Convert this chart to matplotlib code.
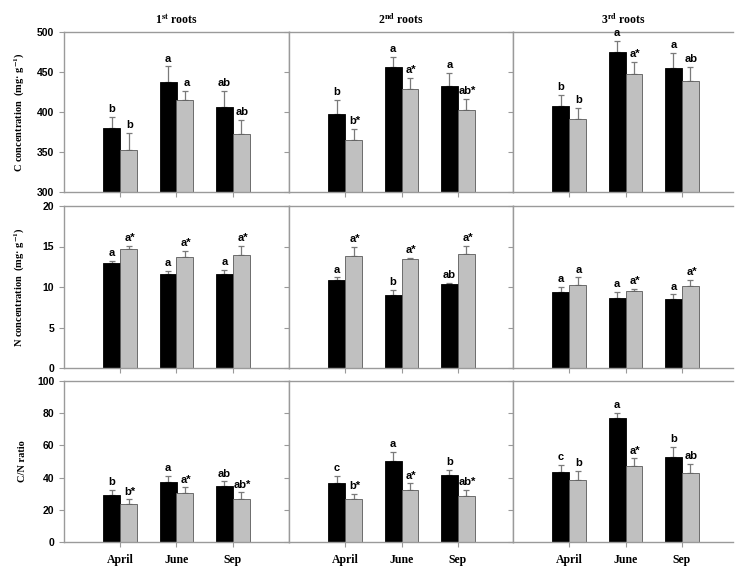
import numpy as np
import matplotlib
matplotlib.use("Agg")
import matplotlib.pyplot as plt

plt.rcParams["mathtext.fontset"] = "stix"

months = ["April", "June", "Sep"]
root_titles = [r"1$^{\mathbf{st}}$ roots", r"2$^{\mathbf{nd}}$ roots", r"3$^{\mathbf{rd}}$ roots"]

# C concentration, one row per root order (1st, 2nd, 3rd)
c_black = [[380, 437, 406], [398, 456, 433], [408, 475, 455]]
c_black_err = [[14, 20, 20], [17, 13, 16], [13, 14, 19]]
c_gray = [[352, 415, 372], [365, 429, 402], [391, 447, 439]]
c_gray_err = [[22, 11, 18], [14, 14, 14], [14, 16, 17]]
c_black_lab = [["b", "a", "ab"], ["b", "a", "a"], ["b", "a", "a"]]
c_gray_lab = [["b", "a", "ab"], ["b*", "a*", "ab*"], ["b", "a*", "ab"]]

# N concentration
n_black = [[12.95, 11.6, 11.6], [10.9, 9.0, 10.35], [9.35, 8.7, 8.55]]
n_black_err = [[0.3, 0.4, 0.5], [0.3, 0.6, 0.2], [0.65, 0.65, 0.55]]
n_gray = [[14.65, 13.7, 13.95], [13.8, 13.4, 14.1], [10.2, 9.55, 10.1]]
n_gray_err = [[0.45, 0.8, 1.15], [1.2, 0.2, 1.0], [1.0, 0.25, 0.8]]
n_black_lab = [["a", "a", "a"], ["a", "b", "ab"], ["a", "a", "a"]]
n_gray_lab = [["a*", "a*", "a*"], ["a*", "a*", "a*"], ["a", "a*", "a*"]]

# C/N ratio
cn_black = [[29.3, 37.4, 34.9], [36.4, 50.4, 41.5], [43.4, 77.1, 52.9]]
cn_black_err = [[2.9, 3.7, 2.7], [4.9, 5.6, 3.1], [4.7, 3.3, 6.0]]
cn_gray = [[23.8, 30.2, 26.4], [26.4, 32.0, 28.5], [38.2, 46.9, 43.0]]
cn_gray_err = [[2.6, 3.7, 4.4], [3.4, 4.4, 3.7], [5.8, 5.0, 5.3]]
cn_black_lab = [["b", "a", "ab"], ["c", "a", "b"], ["c", "a", "b"]]
cn_gray_lab = [["b*", "a*", "ab*"], ["b*", "a*", "ab*"], ["b", "a*", "ab"]]

rows = [
    (c_black, c_black_err, c_gray, c_gray_err, c_black_lab, c_gray_lab,
     (300, 500), [300, 350, 400, 450, 500],
     r"C concentration  (mg· g$^{\mathbf{-1}}$)"),
    (n_black, n_black_err, n_gray, n_gray_err, n_black_lab, n_gray_lab,
     (0, 20), [0, 5, 10, 15, 20],
     r"N concentration  (mg· g$^{\mathbf{-1}}$)"),
    (cn_black, cn_black_err, cn_gray, cn_gray_err, cn_black_lab, cn_gray_lab,
     (0, 100), [0, 20, 40, 60, 80, 100],
     "C/N ratio"),
]

serif = "Liberation Serif"
sans = "Liberation Sans"
spine_col = "#9a9a9a"

fig = plt.figure(figsize=(7.41, 5.72), dpi=100)
W, H = 741.0, 572.0
row_px = [(32, 192), (206, 368), (381, 542)]
col_px = [(64, 289), (289, 513), (513, 733)]

x = np.arange(1, 4)
bw = 0.3

for r, (bm, be, gm, ge, bl, gl, ylim, yticks, ylabel) in enumerate(rows):
    for c in range(3):
        x0, x1 = col_px[c]
        y0, y1 = row_px[r]
        ax = fig.add_axes([x0 / W, 1 - y1 / H, (x1 - x0) / W, (y1 - y0) / H])
        ax.set_xlim(0, (x1 - x0) / 56.25)
        ax.set_ylim(*ylim)

        ax.bar(x - bw / 2, bm[c], bw, color="black", edgecolor="black", linewidth=0.6, zorder=2)
        ax.bar(x + bw / 2, gm[c], bw, color="#c0c0c0", edgecolor="#5a5a5a", linewidth=0.6, zorder=2)
        ax.errorbar(x - bw / 2, bm[c], yerr=[np.zeros(3), be[c]], fmt="none",
                    ecolor="#7a7a7a", elinewidth=0.9, capsize=2.2, capthick=0.9, zorder=1)
        ax.errorbar(x + bw / 2, gm[c], yerr=[np.zeros(3), ge[c]], fmt="none",
                    ecolor="#7a7a7a", elinewidth=0.9, capsize=2.2, capthick=0.9, zorder=1)

        for i in range(3):
            ax.annotate(bl[c][i], (x[i] - bw / 2, bm[c][i] + be[c][i]), xytext=(0, 2),
                        textcoords="offset points", ha="center", va="bottom",
                        fontsize=8, fontweight="bold", family=sans)
            ax.annotate(gl[c][i], (x[i] + bw / 2, gm[c][i] + ge[c][i]), xytext=(1, 2),
                        textcoords="offset points", ha="center", va="bottom",
                        fontsize=8, fontweight="bold", family=sans)

        for sp in ax.spines.values():
            sp.set_color(spine_col)
            sp.set_linewidth(1.0)
        if c == 2:
            ax.spines["right"].set_visible(False)

        ax.set_yticks(yticks)
        ax.set_xticks(x)
        ax.tick_params(axis="both", direction="out", length=3.5, width=0.8,
                       color=spine_col, right=False, top=False)
        if c == 0:
            ax.set_yticklabels([str(t) for t in yticks], fontsize=7.5,
                               fontweight="bold", family=sans)
            ax.set_ylabel(ylabel, fontsize=7.5, fontweight="bold", family=serif)
            ax.yaxis.set_label_coords(-0.165, 0.5)
        else:
            ax.set_yticklabels([])
        if r == 2:
            ax.set_xticklabels(months, fontsize=8.5, fontweight="bold", family=serif)
            ax.tick_params(axis="x", pad=5)
        else:
            ax.set_xticklabels([])
        if r == 0:
            ax.set_title(root_titles[c], fontsize=8.5, fontweight="bold",
                         family=serif, pad=6)

fig.savefig("out.png", dpi=100)
